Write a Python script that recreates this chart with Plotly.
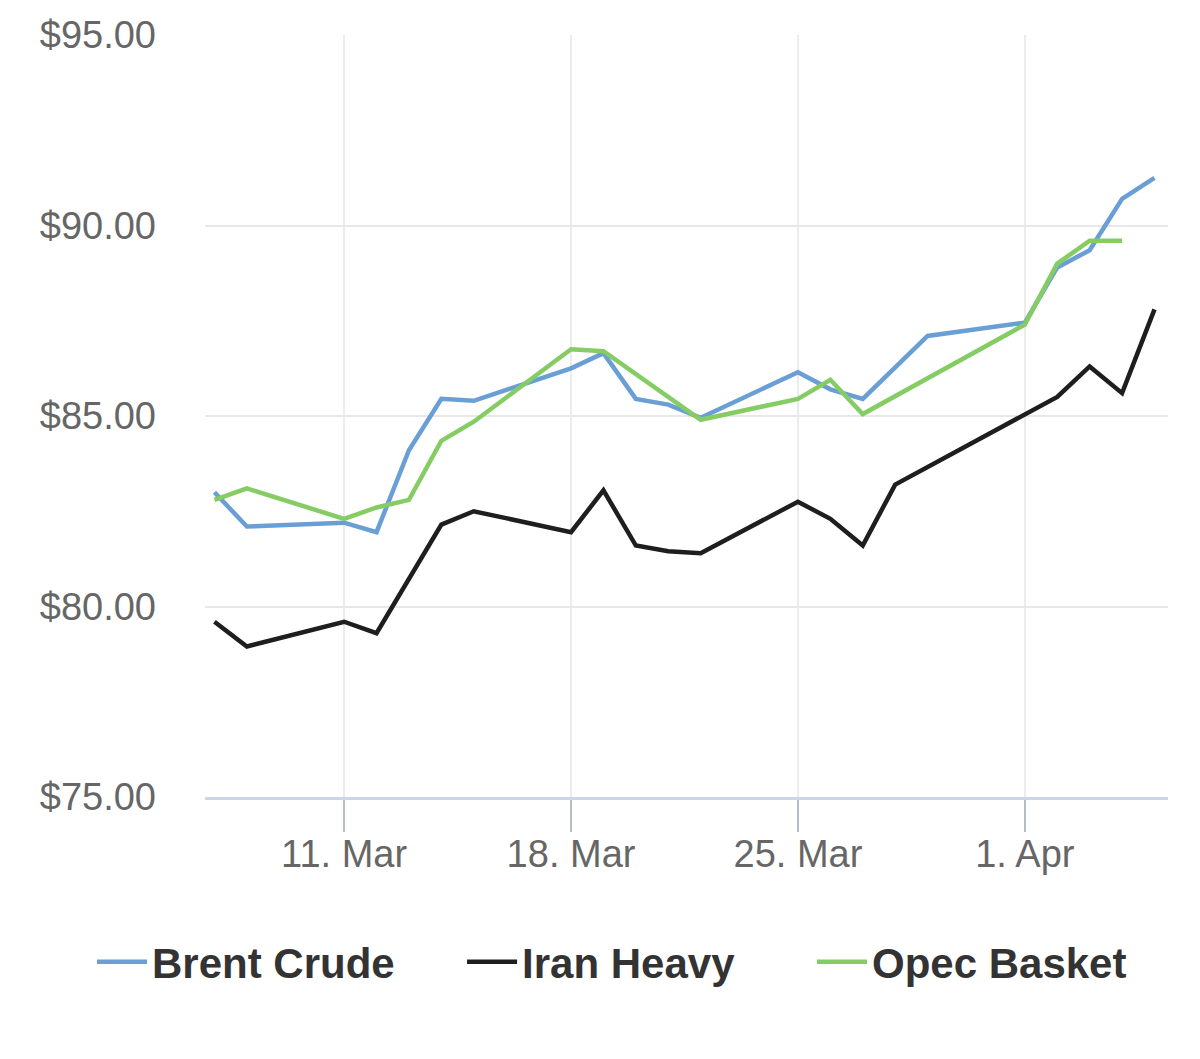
import plotly.graph_objects as go

# ---- data ----
brent_dates = ["2024-03-07", "2024-03-08", "2024-03-11", "2024-03-12", "2024-03-13",
               "2024-03-14", "2024-03-15", "2024-03-18", "2024-03-19", "2024-03-20",
               "2024-03-21", "2024-03-22", "2024-03-25", "2024-03-26", "2024-03-27",
               "2024-03-29", "2024-04-01", "2024-04-02", "2024-04-03", "2024-04-04",
               "2024-04-05"]
brent_vals = [83.0, 82.1, 82.2, 81.95, 84.1,
              85.45, 85.4, 86.25, 86.65, 85.45,
              85.3, 84.95, 86.15, 85.7, 85.45,
              87.1, 87.45, 88.9, 89.35, 90.7,
              91.25]

iran_dates = ["2024-03-07", "2024-03-08", "2024-03-11", "2024-03-12", "2024-03-14",
              "2024-03-15", "2024-03-18", "2024-03-19", "2024-03-20", "2024-03-21",
              "2024-03-22", "2024-03-25", "2024-03-26", "2024-03-27", "2024-03-28",
              "2024-04-02", "2024-04-03", "2024-04-04", "2024-04-05"]
iran_vals = [79.6, 78.95, 79.6, 79.3, 82.15,
             82.5, 81.95, 83.05, 81.6, 81.45,
             81.4, 82.75, 82.3, 81.6, 83.2,
             85.5, 86.3, 85.6, 87.8]

opec_dates = ["2024-03-07", "2024-03-08", "2024-03-11", "2024-03-12", "2024-03-13",
              "2024-03-14", "2024-03-15", "2024-03-18", "2024-03-19", "2024-03-22",
              "2024-03-25", "2024-03-26", "2024-03-27", "2024-04-01", "2024-04-02",
              "2024-04-03", "2024-04-04"]
opec_vals = [82.8, 83.1, 82.3, 82.6, 82.8,
             84.35, 84.85, 86.75, 86.7, 84.9,
             85.45, 85.95, 85.05, 87.4, 89.0,
             89.6, 89.6]

x_tick_vals = ["2024-03-11", "2024-03-18", "2024-03-25", "2024-04-01"]
x_tick_text = ["11. Mar", "18. Mar", "25. Mar", "1. Apr"]
y_tick_vals = [75, 80, 85, 90, 95]
y_tick_text = ["$75.00", "$80.00", "$85.00", "$90.00", "$95.00"]

FONT = "Liberation Sans, Arial, sans-serif"

fig = go.Figure()
fig.add_trace(go.Scatter(x=brent_dates, y=brent_vals, mode="lines", name="Brent Crude",
                         line=dict(color="#6a9fd6", width=4.5), legend="legend"))
fig.add_trace(go.Scatter(x=iran_dates, y=iran_vals, mode="lines", name="Iran Heavy",
                         line=dict(color="#1e1e1e", width=4.5), legend="legend2"))
fig.add_trace(go.Scatter(x=opec_dates, y=opec_vals, mode="lines", name="Opec Basket",
                         line=dict(color="#86cc64", width=4.5), legend="legend3"))

def legend_box(xpos):
    return dict(orientation="h", xref="container", x=xpos, xanchor="left",
                y=-0.2165, yanchor="middle", bgcolor="rgba(0,0,0,0)",
                font=dict(family=FONT, size=42, color="#333333", weight="bold"),
                itemwidth=50)

fig.update_layout(
    width=1200, height=1059,
    margin=dict(l=197, r=40, t=27, b=270, autoexpand=False),
    paper_bgcolor="white", plot_bgcolor="white",
    font=dict(family=FONT, color="#666666"),
    showlegend=True,
    legend=legend_box(0.0700),
    legend2=legend_box(0.3784),
    legend3=legend_box(0.6700),
    hovermode=False,
)

fig.update_xaxes(
    type="date",
    range=["2024-03-06 17:00", "2024-04-05 10:00"],
    tickvals=x_tick_vals, ticktext=x_tick_text,
    tickfont=dict(family=FONT, size=38, color="#666666"),
    showgrid=True, gridcolor="#ececec", gridwidth=1.5,
    showline=True, linecolor="#ccd6eb", linewidth=3,
    ticks="outside", ticklen=32, tickwidth=2, tickcolor="#b8bcc4",
    ticklabelstandoff=-11,
    zeroline=False,
)
fig.update_yaxes(
    range=[75, 95],
    tickvals=y_tick_vals, ticktext=y_tick_text,
    tickfont=dict(family=FONT, size=38, color="#666666"),
    showgrid=True, gridcolor="#e8e8e8", gridwidth=1.5,
    showline=False, zeroline=False,
    ticks="", ticklabelstandoff=48,
)

fig.write_html("out.html")
